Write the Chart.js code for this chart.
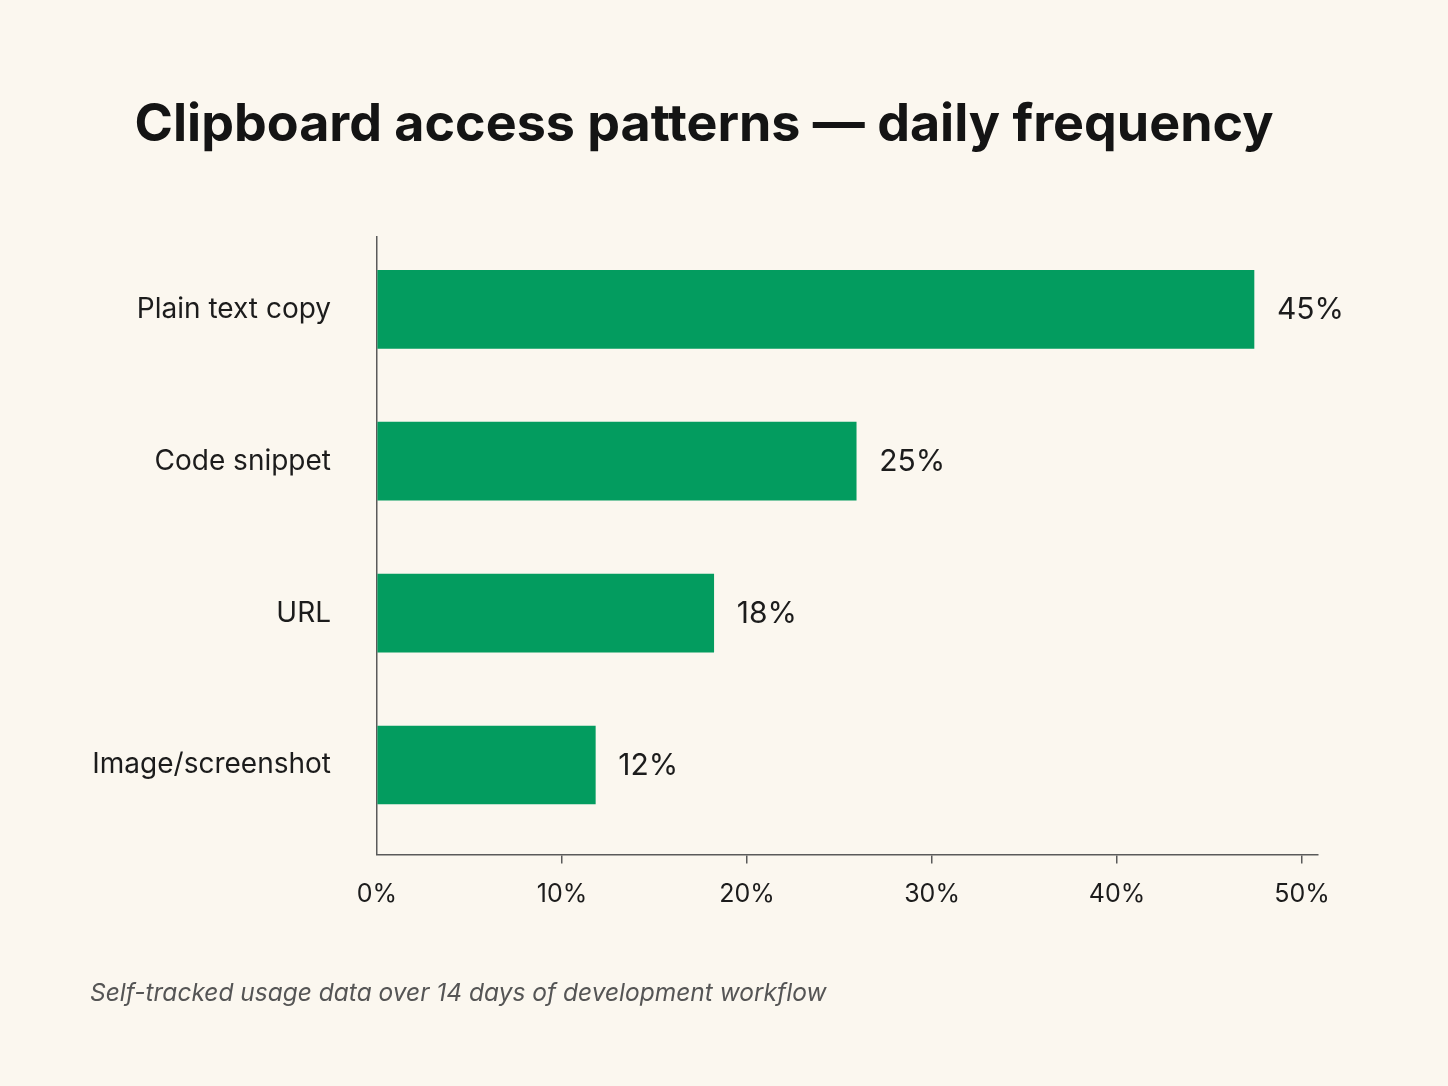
<!DOCTYPE html>
<html>
<head>
<meta charset="utf-8">
<script src="https://cdn.jsdelivr.net/npm/chart.js@4.4.1/dist/chart.umd.min.js"></script>
<style>
  html, body { margin: 0; padding: 0; background: #fbf7ef; }
  #wrap { width: 1448px; height: 1086px; }
</style>
</head>
<body>
<div id="wrap"><canvas id="graph" width="1448" height="1086"></canvas></div>
<script>
// categories and values
const categories = ['Plain text copy', 'Code snippet', 'URL', 'Image/screenshot'];
const barValues = [47.4, 25.9, 18.2, 11.8];      // bar lengths on the % axis
const valueLabels = ['45%', '25%', '18%', '12%']; // printed next to each bar
const xTicks = [0, 10, 20, 30, 40, 50];

const titleText = 'Clipboard access patterns \u2014 daily frequency';
const noteText = 'Self-tracked usage data over 14 days of development workflow';

// labels at the end of each bar
const valueLabelPlugin = {
    id: 'valueLabels',
    afterDatasetsDraw(chart) {
        const ctx = chart.ctx;
        const meta = chart.getDatasetMeta(0);
        ctx.save();
        ctx.font = '30px Inter';
        ctx.fillStyle = '#1c1c1c';
        ctx.textAlign = 'left';
        ctx.textBaseline = 'middle';
        meta.data.forEach((bar, i) => {
            ctx.fillText(valueLabels[i], bar.x + 23, bar.y + 1);
        });
        ctx.restore();
    }
};

const graph = document.querySelector('#graph');

new Chart(graph, {
    type: 'bar',
    data: {
        labels: categories,
        datasets: [{
            data: barValues,
            backgroundColor: '#039c5f',
            borderWidth: 0,
            barThickness: 78
        }]
    },
    options: {
        indexAxis: 'y',
        responsive: false,
        animation: false,
        layout: { padding: { left: 90, right: 130, top: 0, bottom: 0 } },
        plugins: {
            legend: { display: false },
            tooltip: { enabled: false },
            title: {
                display: true,
                text: titleText,
                color: '#141414',
                font: { family: 'Inter', size: 52, weight: '700', lineHeight: 1.2 },
                padding: { top: 94, bottom: 80 }
            },
            subtitle: {
                display: true,
                position: 'bottom',
                align: 'start',
                text: noteText,
                color: '#555555',
                font: { family: 'Inter', size: 24.5, style: 'italic', lineHeight: 1.2 },
                padding: { top: 44, bottom: 78 }
            }
        },
        scales: {
            x: {
                min: 0,
                max: 50.86,
                afterBuildTicks(scale) {
                    scale.ticks = xTicks.map(v => ({ value: v }));
                },
                afterFit(scale) { scale.height = 80; },
                border: { display: true, color: '#5a5a5a', width: 1.5 },
                grid: {
                    drawOnChartArea: false,
                    drawTicks: true,
                    tickLength: 9,
                    lineWidth: 1.5,
                    color: (c) => (c.tick && c.tick.value > 0) ? '#5a5a5a' : 'rgba(0,0,0,0)'
                },
                ticks: {
                    padding: 16,
                    color: '#1c1c1c',
                    font: { family: 'Inter', size: 25 },
                    callback: (v) => v + '%'
                }
            },
            y: {
                // a little less room above the first bar than below the last
                afterBuildTicks(scale) {
                    scale._startValue = -0.48;
                    scale._valueRange = 4.07;
                },
                afterFit(scale) { scale.width = 287; },
                border: { display: true, color: '#5a5a5a', width: 1.5 },
                grid: { drawOnChartArea: false, drawTicks: false },
                ticks: {
                    padding: 46,
                    color: '#1c1c1c',
                    font: { family: 'Inter', size: 28 }
                }
            }
        }
    },
    plugins: [valueLabelPlugin]
});
</script>
</body>
</html>
